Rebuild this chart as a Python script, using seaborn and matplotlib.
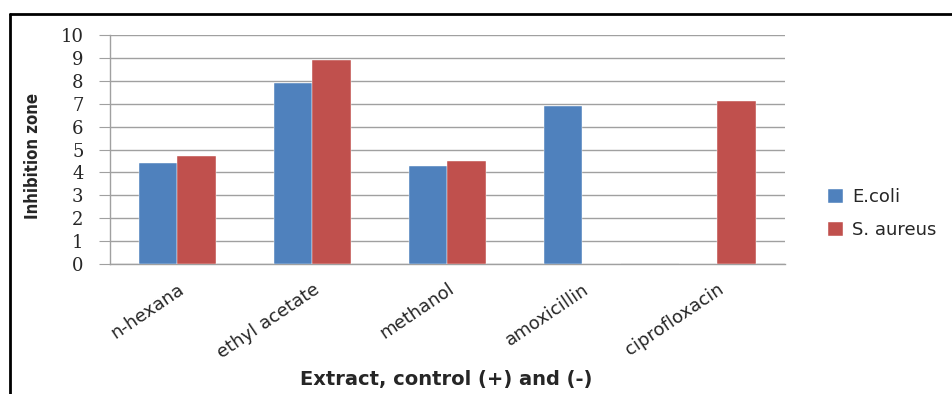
import pandas as pd
import numpy as np
import matplotlib
matplotlib.use('Agg')
import matplotlib.pyplot as plt
from matplotlib.lines import Line2D
import seaborn as sns

sns.set_style('white')
plt.rcParams['font.family'] = ['DejaVu Sans']

# Data
categories = ['n-hexana', 'ethyl acetate', 'methanol', 'amoxicillin', 'ciprofloxacin']
ecoli = [4.4, 7.9, 4.3, 6.9, 0]
saureus = [4.7, 8.9, 4.5, 0, 7.1]
series = ['E.coli', 'S. aureus']
colors = ['#4F81BD', '#C0504D']

df = pd.DataFrame({'category': categories, 'E.coli': ecoli, 'S. aureus': saureus})
df = df.melt(id_vars='category', var_name='organism', value_name='zone')

fig = plt.figure(figsize=(9.52, 3.94), dpi=100)
ax = fig.add_axes([0.1155, 0.330, 0.709, 0.581])

sns.barplot(data=df, x='category', y='zone', hue='organism', hue_order=series,
            palette=colors, width=0.57, gap=0, saturation=1, ax=ax,
            edgecolor='white', linewidth=0.3, legend=True, zorder=3)

ax.set_ylim(0, 10)
ax.set_yticks(range(0, 11))
ax.set_xlim(-0.5, 4.5)
ax.yaxis.grid(True, color='#A0A0A0', linewidth=1, zorder=0)
ax.set_axisbelow(True)
for s in ['top', 'right']:
    ax.spines[s].set_visible(False)
for s in ['left', 'bottom']:
    ax.spines[s].set_color('#A0A0A0')
    ax.spines[s].set_linewidth(1)
ax.tick_params(axis='y', left=True, length=8, color='#A0A0A0', labelsize=13, pad=11)
ax.tick_params(axis='x', bottom=False, labelsize=13, pad=8)
for lab in ax.get_yticklabels():
    lab.set_family('DejaVu Serif')
plt.setp(ax.get_xticklabels(), rotation=34, ha='right', va='top', rotation_mode='anchor')

ax.set_ylabel('Inhibition zone', fontsize=12, fontweight='bold', fontstretch='condensed')
ax.yaxis.set_label_coords(-0.1, 0.47)
ax.set_xlabel('Extract, control (+) and (-)', fontsize=14, fontweight='bold')
ax.xaxis.set_label_coords(0.498, -0.462)

leg = ax.legend(loc='center left', bbox_to_anchor=(828 / 952, 1 - 213.5 / 394),
                bbox_transform=fig.transFigure, frameon=False, borderpad=0,
                borderaxespad=0, fontsize=13, handlelength=0.83, handleheight=0.83,
                labelspacing=0.83, handletextpad=0.5)

# outer frame (partly cropped in the original)
fig.add_artist(Line2D([10 / 952, 10 / 952], [0, 1 - 14 / 394], color='black', lw=2,
                      transform=fig.transFigure))
fig.add_artist(Line2D([10 / 952, 1], [1 - 14 / 394, 1 - 14 / 394], color='black', lw=2,
                      transform=fig.transFigure))

fig.savefig('out.png', dpi=100)
